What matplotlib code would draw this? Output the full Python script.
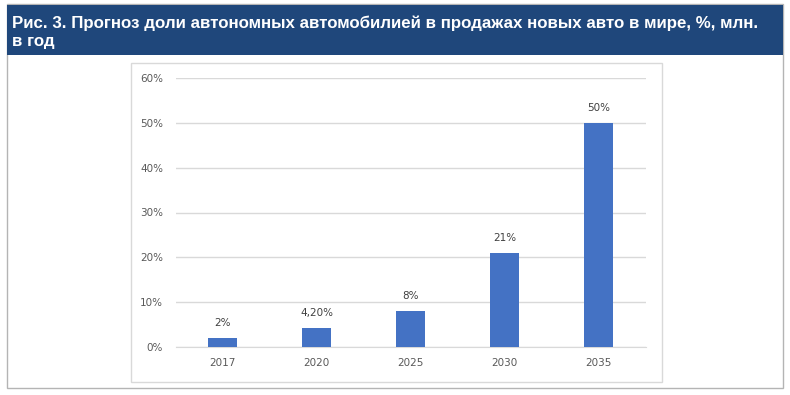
import matplotlib
matplotlib.use("Agg")
import matplotlib.pyplot as plt
from matplotlib.patches import Rectangle

years = ["2017", "2020", "2025", "2030", "2035"]
shares = [2, 4.2, 8, 21, 50]
share_labels = ["2%", "4,20%", "8%", "21%", "50%"]
y_ticks = [0, 10, 20, 30, 40, 50, 60]
title_lines = ["Рис. 3. Прогноз доли автономных автомобилией в продажах новых авто в мире, %, млн.",
               "в год"]

W, H = 790, 395


def fx(px):
    return px / W


def fy(py):
    return 1 - py / H


fig = plt.figure(figsize=(7.9, 3.95), dpi=100)
fig.patch.set_facecolor("white")

# outer frame + header
fig.patches.append(Rectangle((fx(7), fy(388)), fx(783) - fx(7), fy(4) - fy(388),
                             transform=fig.transFigure, fill=False, edgecolor="#b4b4b4", lw=1))
fig.patches.append(Rectangle((fx(7), fy(55)), fx(783) - fx(7), fy(5) - fy(55),
                             transform=fig.transFigure, facecolor="#1f477b", edgecolor="none"))
# chart frame
fig.patches.append(Rectangle((fx(130.5), fy(382)), fx(662) - fx(130.5), fy(63) - fy(382),
                             transform=fig.transFigure, fill=False, edgecolor="#d9d9d9", lw=1))

head_font = ["Liberation Sans", "DejaVu Sans"]
fig.text(fx(12), fy(23), title_lines[0], color="white", fontsize=12.2, fontweight="bold",
         family=head_font, va="center", ha="left")
fig.text(fx(12), fy(41.5), title_lines[1], color="white", fontsize=12.2, fontweight="bold",
         family=head_font, va="center", ha="left")

ax = fig.add_axes([fx(175.5), fy(347), fx(645.5) - fx(175.5), fy(78) - fy(347)])
x = range(len(years))
ax.bar(x, shares, width=0.305, color="#4472c4", zorder=3)
for i, v in enumerate(shares):
    ax.text(i, v + 2.2, share_labels[i], ha="center", va="bottom", fontsize=7.5, color="#404040")

ax.set_xlim(-0.5, len(years) - 0.5)
ax.set_ylim(0, 60)
ax.set_yticks(y_ticks)
ax.set_yticklabels([f"{t}%" for t in y_ticks])
ax.set_xticks(list(x))
ax.set_xticklabels(years)
ax.tick_params(length=0, labelsize=7.5, labelcolor="#595959")
ax.tick_params(axis="y", pad=9)
ax.tick_params(axis="x", pad=8)
ax.grid(axis="y", color="#d9d9d9", lw=1, zorder=0)
for s in ["top", "right", "left"]:
    ax.spines[s].set_visible(False)
ax.spines["bottom"].set_color("#d9d9d9")

fig.savefig("out.png", dpi=100)
